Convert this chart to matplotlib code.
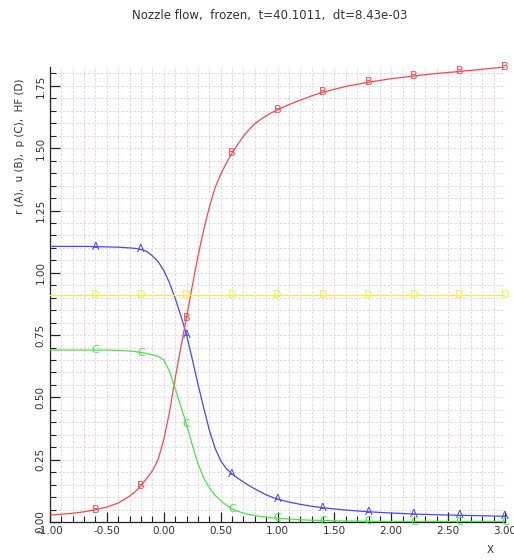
import matplotlib
matplotlib.use("Agg")
import matplotlib.pyplot as plt
import numpy as np
from matplotlib.ticker import MultipleLocator, FormatStrFormatter

TITLE = "Nozzle flow,  frozen,  t=40.1011,  dt=8.43e-03"
YLABEL = "r (A),  u (B),  p (C),  HF (D)"

x = [-1.0, -0.9, -0.8, -0.7, -0.6, -0.5, -0.4,
     -0.3, -0.25, -0.2, -0.15, -0.1, -0.05, 0.0, 0.05, 0.1, 0.15,
     0.2, 0.25, 0.3, 0.35, 0.4, 0.45, 0.5, 0.55, 0.6, 0.65,
     0.7, 0.75, 0.8, 0.85, 0.9, 0.95, 1.0,
     1.1, 1.2, 1.3, 1.4, 1.6, 1.8, 2.0, 2.2, 2.4, 2.6, 2.8, 3.0]

r = [1.106, 1.106, 1.106, 1.106, 1.105, 1.104, 1.103,
     1.100, 1.098, 1.094, 1.086, 1.068, 1.045, 1.010, 0.960, 0.898, 0.828,
     0.752, 0.655, 0.555, 0.460, 0.370, 0.298, 0.247, 0.214, 0.193, 0.176,
     0.161, 0.146, 0.133, 0.121, 0.109, 0.100, 0.092,
     0.080, 0.071, 0.063, 0.057, 0.048, 0.041, 0.036, 0.032, 0.029, 0.027,
     0.025, 0.023]

u = [0.028, 0.031, 0.035, 0.041, 0.049, 0.060, 0.076,
     0.104, 0.122, 0.146, 0.175, 0.205, 0.250, 0.330, 0.440, 0.575, 0.700,
     0.820, 0.945, 1.065, 1.170, 1.262, 1.340, 1.395, 1.440, 1.480, 1.515,
     1.548, 1.575, 1.598, 1.615, 1.630, 1.643, 1.654,
     1.675, 1.693, 1.710, 1.725, 1.748, 1.765, 1.779, 1.790, 1.800, 1.808,
     1.817, 1.826]

p = [0.690, 0.690, 0.690, 0.690, 0.690, 0.690, 0.689,
     0.686, 0.684, 0.680, 0.676, 0.671, 0.665, 0.650, 0.605, 0.537, 0.465,
     0.392, 0.310, 0.235, 0.178, 0.138, 0.108, 0.086, 0.068, 0.053, 0.043,
     0.036, 0.030, 0.026, 0.022, 0.019, 0.017, 0.015,
     0.012, 0.009, 0.007, 0.006, 0.004, 0.003, 0.002, 0.002, 0.002, 0.002,
     0.002, 0.002]

hf = [0.91] * len(x)

# letters are placed every 0.4 starting at -0.6
marker_x = [-0.6, -0.2, 0.2, 0.6, 1.0, 1.4, 1.8, 2.2, 2.6, 3.0]

series = [
    (r, "A", "#4646ff"),
    (u, "B", "#ff4646"),
    (p, "C", "#46e646"),
    (hf, "D", "#f2f23c"),
]

fig = plt.figure(figsize=(5.14, 5.6), dpi=100)
ax = fig.add_axes([50 / 514, 38 / 560, 455 / 514, 455 / 560])

xs = np.array(x)
idx = [int(np.argmin(np.abs(xs - m))) for m in marker_x]

for vals, letter, color in series:
    ax.plot(x, vals, color=color, linewidth=0.9, zorder=3)
    for i in idx:
        ax.text(x[i], vals[i], letter, color=color, fontsize=8,
                ha="center", va="center", zorder=4)

ax.set_xlim(-1.0, 3.0)
ax.set_ylim(0.0, max(u))

ax.xaxis.set_major_locator(MultipleLocator(0.5))
ax.xaxis.set_minor_locator(MultipleLocator(0.1))
ax.yaxis.set_major_locator(MultipleLocator(0.25))
ax.yaxis.set_minor_locator(MultipleLocator(0.05))
ax.xaxis.set_major_formatter(FormatStrFormatter("%.2f"))
ax.yaxis.set_major_formatter(FormatStrFormatter("%.2f"))

ax.tick_params(which="both", direction="in", colors="#222222",
               labelsize=7.5, labelcolor="#333333")
ax.tick_params(which="major", length=7, width=0.9, pad=3)
ax.tick_params(which="minor", length=4, width=0.8)
for lab in ax.get_yticklabels():
    lab.set_rotation(90)
    lab.set_va("center")

ax.grid(which="both", axis="x", color="#ecc8ec", linestyle=(0, (3, 2)),
        linewidth=0.6)
ax.grid(which="both", axis="y", color="#dcd6dc", linestyle=(0, (3, 2)),
        linewidth=0.6)
ax.set_axisbelow(True)

for side in ("top", "right"):
    ax.spines[side].set_visible(False)
for side in ("left", "bottom"):
    ax.spines[side].set_color("#222222")
    ax.spines[side].set_linewidth(0.9)

fig.text(270 / 514, 1 - 15 / 560, TITLE, ha="center", va="center",
         fontsize=8.5, color="#333333")
fig.text(20 / 514, 1 - 146 / 560, YLABEL, rotation=90, ha="center",
         va="center", fontsize=7.5, color="#333333")
fig.text(490 / 514, 1 - 550 / 560, "X", ha="center", va="center",
         fontsize=7.5, color="#333333")

fig.savefig("out.png", dpi=100)
